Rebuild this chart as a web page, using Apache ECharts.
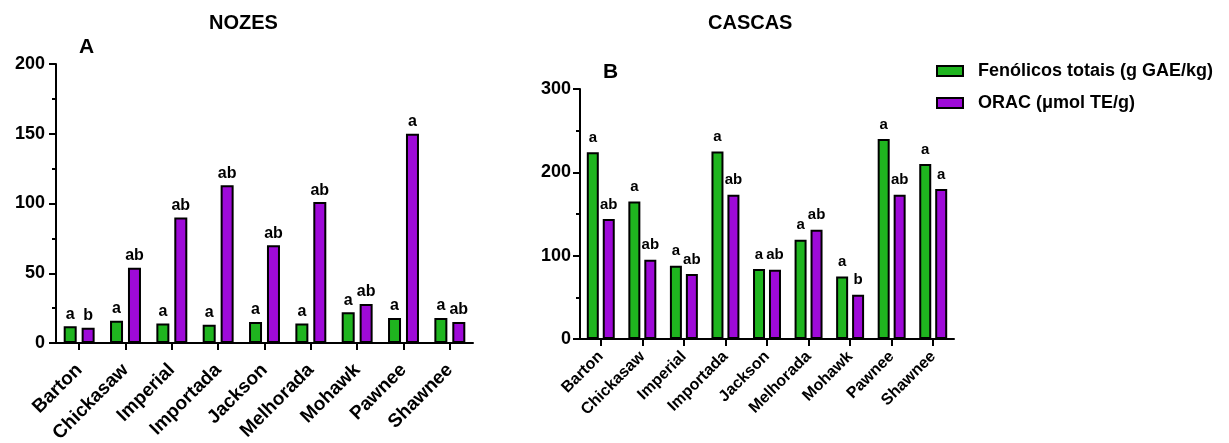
<!DOCTYPE html>
<html>
<head>
<meta charset="utf-8">
<script src="https://cdn.jsdelivr.net/npm/echarts@6/dist/echarts.min.js"></script>
<style>
  html, body { margin: 0; padding: 0; background: #fff; }
  #chart { width: 1229px; height: 443px; }
</style>
</head>
<body>
<div id="chart"></div>
<script>
const categories = ["Barton", "Chickasaw", "Imperial", "Importada", "Jackson", "Melhorada", "Mohawk", "Pawnee", "Shawnee"];

// NOZES (A)
const nozesFenolicos = [12, 16, 14, 13, 15, 14, 22, 18, 18];
const nozesOrac = [11, 54, 90, 113, 70, 101, 28, 150, 15];
const nozesFenLetters = ["a", "a", "a", "a", "a", "a", "a", "a", "a"];
const nozesOracLetters = ["b", "ab", "ab", "ab", "ab", "ab", "ab", "a", "ab"];

// CASCAS (B)
const cascasFenolicos = [224, 165, 88, 225, 84, 119, 75, 240, 210];
const cascasOrac = [144, 95, 78, 173, 83, 131, 53, 173, 180];
const cascasFenLetters = ["a", "a", "a", "a", "a", "a", "a", "a", "a"];
const cascasOracLetters = ["ab", "ab", "ab", "ab", "ab", "ab", "b", "ab", "a"];

const seriesNames = ["Fenólicos totais (g GAE/kg)", "ORAC (\u03bcmol TE/g)"];
const green = "#1fb51f";
const purple = "#9e0ad8";
const font = "Liberation Sans, Arial, sans-serif";

const myChart = echarts.init(document.getElementById("chart"));

const tickStyle = { show: true, alignWithLabel: true, length: 7, lineStyle: { color: "#000", width: 2 } };

const axisStyle = (fontSize, margin) => ({
  axisLine: { show: true, lineStyle: { color: "#000", width: 2 } },
  axisTick: tickStyle,
  axisLabel: { color: "#000", fontWeight: "bold", fontSize: fontSize, fontFamily: font, margin: margin },
  splitLine: { show: false },
});

const barSeries = (name, grid, data, letters, color, barWidth, barGap, labelFont, labelDist) => ({
  name: name,
  type: "bar",
  xAxisIndex: grid,
  yAxisIndex: grid,
  data: data,
  barWidth: barWidth,
  barGap: barGap,
  itemStyle: { color: color, borderColor: "#000", borderWidth: 2 },
  label: {
    show: true,
    position: "top",
    distance: labelDist,
    color: "#000",
    fontWeight: "bold",
    fontSize: labelFont,
    fontFamily: font,
    formatter: (p) => letters[p.dataIndex],
  },
});

const titleText = (size) => ({ fontSize: size, fontWeight: "bold", fontFamily: font, color: "#000" });

const option = {
  animation: false,
  title: [
    { text: "NOZES", left: 204, top: 8, textStyle: titleText(20) },
    { text: "CASCAS", left: 703, top: 8, textStyle: titleText(20) },
    { text: "A", left: 74, top: 32, textStyle: titleText(21) },
    { text: "B", left: 598, top: 57, textStyle: titleText(21) },
  ],
  legend: {
    data: seriesNames,
    orient: "vertical",
    left: 936,
    top: 61,
    padding: 0,
    itemWidth: 26,
    itemHeight: 10,
    itemGap: 12,
    icon: "rect",
    itemStyle: { borderColor: "#000", borderWidth: 2 },
    textStyle: { color: "#000", fontSize: 18, fontWeight: "bold", fontFamily: font, lineHeight: 20, padding: [0, 0, 0, 10] },
  },
  grid: [
    { left: 56, top: 64, width: 417, height: 279, outerBoundsMode: "none" },
    { left: 580, top: 89, width: 374, height: 250, outerBoundsMode: "none" },
  ],
  xAxis: [
    Object.assign(axisStyle(19, 24), {
      type: "category",
      gridIndex: 0,
      data: categories,
      axisLabel: { color: "#000", fontWeight: "bold", fontSize: 19, fontFamily: font, rotate: 45, margin: 24, interval: 0 },
    }),
    Object.assign(axisStyle(16, 15), {
      type: "category",
      gridIndex: 1,
      data: categories,
      axisLabel: { color: "#000", fontWeight: "bold", fontSize: 16, fontFamily: font, rotate: 45, margin: 15, interval: 0 },
    }),
  ],
  yAxis: [
    Object.assign(axisStyle(18, 11), {
      type: "value",
      gridIndex: 0,
      min: 0,
      max: 200,
      interval: 50,
      minorTick: { show: true, splitNumber: 2, length: 4, lineStyle: { color: "#000", width: 2 } },
    }),
    Object.assign(axisStyle(18, 9), {
      type: "value",
      gridIndex: 1,
      min: 0,
      max: 300,
      interval: 100,
      minorTick: { show: true, splitNumber: 2, length: 4, lineStyle: { color: "#000", width: 2 } },
    }),
  ],
  series: [
    barSeries(seriesNames[0], 0, nozesFenolicos, nozesFenLetters, green, 13, "38%", 16, 4),
    barSeries(seriesNames[1], 0, nozesOrac, nozesOracLetters, purple, 13, "38%", 16, 4),
    barSeries(seriesNames[0], 1, cascasFenolicos, cascasFenLetters, green, 12, "33%", 15, 7),
    barSeries(seriesNames[1], 1, cascasOrac, cascasOracLetters, purple, 12, "33%", 15, 7),
  ],
};

option && myChart.setOption(option);
</script>
</body>
</html>
